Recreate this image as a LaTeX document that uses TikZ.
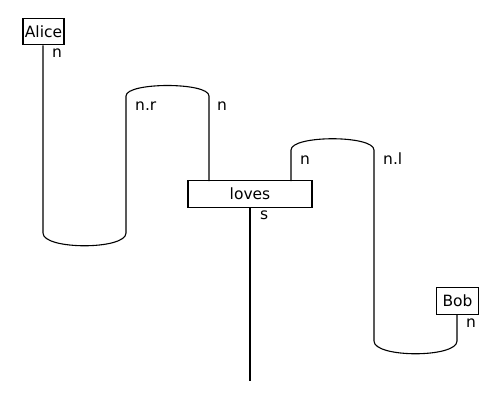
\documentclass[tikz,border=0pt]{standalone}
\usepackage{fontspec}
\setmainfont{DejaVu Sans}
\begin{document}
\begin{tikzpicture}[x=1pt,y=-1pt,
  wire/.style={line width=1.1pt},
  boxnode/.style={draw, line width=1.1pt, rectangle, inner sep=0pt, minimum height=26.5pt, font=\fontsize{15.5}{18}\selectfont},
  typelabel/.style={anchor=base west, inner sep=0pt, font=\fontsize{15.5}{18}\selectfont}]
\useasboundingbox (0,0) rectangle (500,400);
% boxes
\node[boxnode, minimum width=41pt] (alice) at (43.5,31.5) {Alice};
\node[boxnode, minimum width=124pt] (loves) at (250,194) {loves};
\node[boxnode, minimum width=42pt] (bob) at (457.5,301) {Bob};
% coordinates
\coordinate (a1) at (43,233);
\coordinate (a2) at (126,233);
\coordinate (a3) at (126,96);
\coordinate (a4) at (209,96);
\coordinate (lin1) at (209,181);
\coordinate (lin2) at (291,181);
\coordinate (b1) at (291,150);
\coordinate (b2) at (374,150);
\coordinate (b3) at (374,341);
\coordinate (b4) at (457,341);
\coordinate (lout) at (250,207);
\coordinate (sout) at (250,381);
% wires
\draw[wire] (alice.south -| a1) -- (a1) .. controls (43,250) and (126,250) .. (a2)
  -- (a3) .. controls (126,82) and (209,82) .. (a4) -- (lin1);
\draw[wire] (lin2) -- (b1) .. controls (291,135) and (374,135) .. (b2)
  -- (b3) .. controls (374,358) and (457,358) .. (b4) -- (bob.south -| b4);
\draw[wire] (lout) -- (sout);
% labels
\node[typelabel] (t1) at (52,57.5) {n};
\node[typelabel] (t2) at (135,110.5) {n.r};
\node[typelabel] (t3) at (217,110.5) {n};
\node[typelabel] (t4) at (300,164.5) {n};
\node[typelabel] (t5) at (383,164.5) {n.l};
\node[typelabel] (t6) at (260,219) {s};
\node[typelabel] (t7) at (466,327) {n};
\end{tikzpicture}
\end{document}
